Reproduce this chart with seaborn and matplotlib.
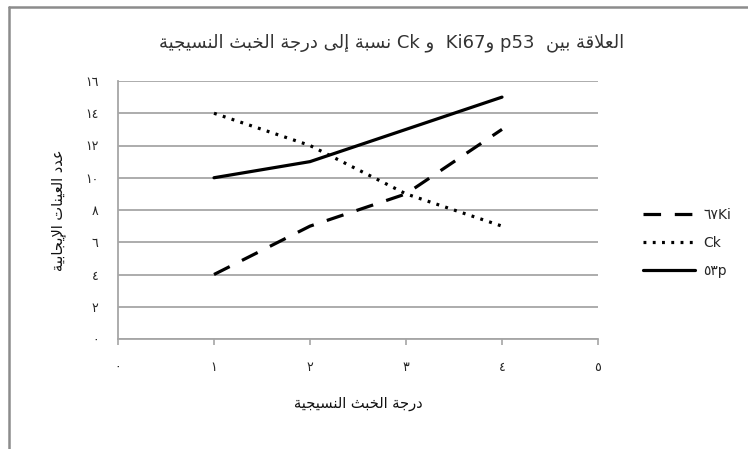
import matplotlib
matplotlib.use("Agg")
import matplotlib.pyplot as plt
from matplotlib.lines import Line2D
import seaborn as sns
import pandas as pd

# ---- data -------------------------------------------------------------
grades = [1, 2, 3, 4]
ki67 = [4, 7, 9, 13]
ck = [14, 12, 9, 7]
p53 = [10, 11, 13, 15]

series_labels = ["٦٧Ki", "Ck", "٥٣p"]
x_ticks = [0, 1, 2, 3, 4, 5]
x_tick_labels = ["٠", "١", "٢", "٣", "٤", "٥"]
y_ticks = [0, 2, 4, 6, 8, 10, 12, 14, 16]
y_tick_labels = ["٠", "٢", "٤", "٦", "٨", "١٠", "١٢", "١٤", "١٦"]

title_text = "العلاقة بين  p53 وKi67  و Ck نسبة إلى درجة الخبث النسيجية"
x_title = "درجة الخبث النسيجية"
y_title = "عدد العينات الإيجابية"

# ---- minimal Arabic shaping + right-to-left ordering ------------------
DUAL = {"ب": 0xFE8F, "ت": 0xFE95, "ث": 0xFE99, "ج": 0xFE9D, "خ": 0xFEA5,
        "س": 0xFEB1, "ع": 0xFEC9, "ق": 0xFED5, "ل": 0xFEDD, "ن": 0xFEE5,
        "ي": 0xFEF1}
RIGHT = {"ا": 0xFE8D, "إ": 0xFE87, "ة": 0xFE93, "د": 0xFEA9, "ر": 0xFEAD,
         "و": 0xFEED, "ى": 0xFEEF}
LAM_ALEF = {"ا": 0xFEFB, "إ": 0xFEF9}


def shape(s):
    chars = []
    i = 0
    while i < len(s):
        if s[i] == "ل" and i + 1 < len(s) and s[i + 1] in LAM_ALEF:
            chars.append(("LA", LAM_ALEF[s[i + 1]]))
            i += 2
        else:
            chars.append(s[i])
            i += 1

    def kind(c):
        if isinstance(c, tuple):
            return "R"
        if c in DUAL:
            return "D"
        if c in RIGHT:
            return "R"
        return None

    out = []
    for j, c in enumerate(chars):
        k = kind(c)
        if k is None:
            out.append(c)
            continue
        prev_join = j > 0 and kind(chars[j - 1]) == "D"
        next_join = k == "D" and j + 1 < len(chars) and kind(chars[j + 1]) is not None
        base = c[1] if isinstance(c, tuple) else DUAL.get(c, RIGHT.get(c))
        if prev_join and next_join:
            off = 3
        elif prev_join:
            off = 1
        elif next_join:
            off = 2
        else:
            off = 0
        out.append(chr(base + off))
    return "".join(out)


def rtl(text):
    def cls(ch):
        if "\u0600" <= ch <= "\u06FF":
            return "R"
        if ch.isspace():
            return "N"
        return "L"

    classes = [cls(ch) for ch in text]
    resolved = []
    for i, c in enumerate(classes):
        if c != "N":
            resolved.append(c)
            continue
        prev = next((classes[k] for k in range(i - 1, -1, -1) if classes[k] != "N"), "R")
        nxt = next((classes[k] for k in range(i + 1, len(classes)) if classes[k] != "N"), "R")
        resolved.append("L" if prev == "L" and nxt == "L" else "R")
    runs = []
    for ch, c in zip(text, resolved):
        if runs and runs[-1][0] == c:
            runs[-1][1] += ch
        else:
            runs.append([c, ch])
    pieces = []
    for c, s in runs:
        pieces.append(shape(s)[::-1] if c == "R" else s)
    return "".join(reversed(pieces))


# ---- figure -----------------------------------------------------------
sns.set_theme(style="white")
plt.rcParams["font.family"] = ["DejaVu Sans"]

fig = plt.figure(figsize=(7.48, 4.49), dpi=100)
ax = fig.add_axes([118 / 748, 1 - 339 / 449, 480 / 748, 258 / 449])

grid_color = "#a6a6a6"
styles = [(0, (5.5, 4.3)), (0, (0.9, 2.0)), "-"]
values = [ki67, ck, p53]
for lab, vals, ls in zip(series_labels, values, styles):
    df = pd.DataFrame({"grade": grades, "count": vals})
    sns.lineplot(data=df, x="grade", y="count", ax=ax, color="black",
                 linewidth=2.3, linestyle=ls, label=lab, zorder=3)

ax.set_xlim(0, 5)
ax.set_ylim(0, 16)
ax.set_xticks(x_ticks)
ax.set_xticklabels(x_tick_labels, fontsize=9)
ax.set_yticks(y_ticks)
ax.set_yticklabels(y_tick_labels, fontsize=9)
ax.yaxis.grid(True, color=grid_color, linewidth=1.3)
ax.set_axisbelow(True)

for side in ["top", "right"]:
    ax.spines[side].set_visible(False)
for side in ["left", "bottom"]:
    ax.spines[side].set_color(grid_color)
    ax.spines[side].set_linewidth(1.3)

ax.tick_params(axis="x", direction="out", length=4, width=1.2,
               color=grid_color, pad=12, bottom=True)
ax.tick_params(axis="y", length=0, pad=14)

ax.set_xlabel(rtl(x_title), fontsize=10.5, labelpad=16, color="#111111")
ax.set_ylabel(rtl(y_title), fontsize=10.5, labelpad=14, color="#111111")

fig.text(0.523, 1 - 43 / 449, rtl(title_text), ha="center", va="center",
         fontsize=13, color="#333333")

handles = [Line2D([0], [0], color="black", linewidth=2.3, linestyle=ls)
           for ls in styles]
ax.legend(handles, series_labels, loc="center left",
          bbox_to_anchor=(630 / 748, 1 - 243 / 449),
          bbox_transform=fig.transFigure, frameon=False, fontsize=10,
          handlelength=3.8, labelspacing=1.0, handletextpad=0.6)

# outer chart frame (left and top edges)
fig.add_artist(Line2D([9 / 748, 9 / 748], [0, 1 - 7 / 449],
                      transform=fig.transFigure, color="#8c8c8c", linewidth=1.8))
fig.add_artist(Line2D([9 / 748, 1], [1 - 7 / 449, 1 - 7 / 449],
                      transform=fig.transFigure, color="#8c8c8c", linewidth=1.8))

fig.savefig("out.png", dpi=100)
